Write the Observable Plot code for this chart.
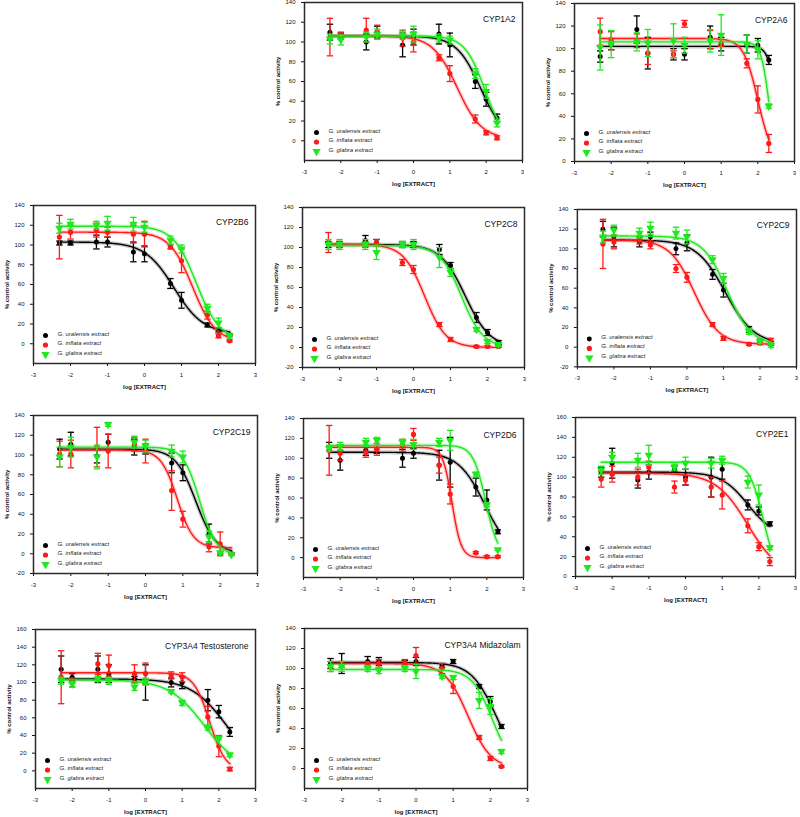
<!DOCTYPE html>
<html><head><meta charset="utf-8">
<script src="https://cdn.jsdelivr.net/npm/d3@7"></script>
<script src="https://cdn.jsdelivr.net/npm/@observablehq/plot@0.6"></script>
<style>
html,body{margin:0;padding:0;background:#fff;overflow:hidden;}
#page{position:relative;width:800px;height:817px;background:#fff;}
.panel{position:absolute;}
.panel svg{overflow:visible;}
.panel [aria-label="x-axis label"] text,.panel [aria-label="y-axis label"] text{font-weight:bold;}
</style></head><body><div id="page"></div>
<script>
// ---------- data ----------
const logConc = [-2.3, -2, -1.3, -1, -0.3, 0, 0.7, 1, 1.7, 2, 2.3];
const extracts = ["G. uralensis extract", "G. inflata extract", "G. glabra extract"];
const seriesColors = ["#000000", "#ff1a1a", "#1fe81f"];
const xTicks = [-3, -2, -1, 0, 1, 2, 3];
const yTicks0to140 = [0, 20, 40, 60, 80, 100, 120, 140];
const yTicksM20to140 = [-20, 0, 20, 40, 60, 80, 100, 120, 140];
const yTicks0to160 = [0, 20, 40, 60, 80, 100, 120, 140, 160];

// means [uralensis, inflata, glabra], SD, and fitted curve params [top, bottom, logIC50, hill]
const CYP1A2_mean = [[110,106,100,110,97,105,108,97,60,42,23],[105,107,112,110,104,100,84,68,22,8,3],[103,102,105,108,107,108,104,102,68,50,18]];
const CYP1A2_sd   = [[8,3,8,6,12,8,10,12,7,7,4],[19,3,12,7,8,10,3,8,4,2,2],[5,5,5,5,4,8,4,4,5,7,4]];
const CYP1A2_fit  = [[106,0,1.85,1.3],[106,2,1.2,1.3],[106,0,1.95,1.6]];

const CYP2A6_mean = [[93,104,117,96,95,95,110,104,104,103,90],[115,107,107,96,95,122,108,105,87,55,16],[101,104,106,105,107,103,107,112,104,99,49]];
const CYP2A6_sd   = [[5,5,12,14,5,5,10,6,8,6,4],[12,8,6,10,3,3,8,3,4,12,8],[20,12,8,12,15,7,10,18,8,8,2]];
const CYP2A6_fit  = [[102,0,2.5,4],[109,0,2.0,2.2],[106,0,2.3,4]];

const CYP2B6_mean = [[102,102,103,103,93,91,61,44,19,14,9],[108,113,115,113,111,111,98,84,29,8,3],[117,121,120,122,121,118,105,96,36,21,8]];
const CYP2B6_sd   = [[2,2,7,5,10,8,5,8,2,2,1],[22,7,7,5,9,13,2,12,4,2,1],[5,5,4,7,7,5,4,4,4,5,2]];
const CYP2B6_fit  = [[103,10,0.8,1.1],[113,2,1.3,1.4],[119,4,1.4,1.4]];

const CYP2C8_mean = [[103,103,107,105,103,103,98,82,30,15,5],[105,103,103,105,85,78,23,8,1,1,1],[103,103,103,95,103,103,90,75,18,6,3]];
const CYP2C8_sd   = [[3,3,5,3,3,3,5,3,5,3,2],[10,3,3,3,3,4,2,2,1,1,1],[5,5,5,7,3,5,10,4,2,2,2]];
const CYP2C8_fit  = [[103,0,1.4,1.3],[103,0,0.3,1.5],[102,0,1.3,1.5]];

const CYP2C9_mean = [[120,112,107,112,100,106,74,58,18,6,4],[105,107,109,104,80,71,23,9,3,4,6],[112,119,116,121,116,112,89,70,16,6,2]];
const CYP2C9_sd   = [[8,10,5,5,6,8,5,7,3,2,2],[25,7,4,4,4,5,2,2,1,1,3],[6,5,5,6,6,7,4,5,3,2,2]];
const CYP2C9_fit  = [[109,3,1.05,1.1],[109,3,0.2,1.3],[113,2,1.1,1.3]];

const CYP2C19_mean = [[106,111,99,113,108,106,92,82,20,1,0],[101,101,108,104,111,104,64,35,7,10,0],[98,108,98,131,113,109,104,98,17,1,-1]];
const CYP2C19_sd   = [[10,12,7,8,8,5,10,8,10,1,1],[13,14,20,17,7,12,20,8,5,12,1],[10,10,12,2,6,6,6,6,6,1,1]];
const CYP2C19_fit  = [[106,0,1.35,1.6],[105,6,0.85,2.0],[108,-1,1.45,2.0]];

const CYP2D6_mean = [[108,98,108,109,100,105,93,96,71,58,26],[108,105,106,109,113,124,93,64,5,1,1],[110,112,116,118,116,114,116,118,84,53,8]];
const CYP2D6_sd   = [[8,10,5,4,9,5,15,25,9,10,2],[25,7,5,6,6,6,8,10,1,1,1],[3,4,4,3,3,5,4,10,2,2,1]];
const CYP2D6_fit  = [[106,0,1.95,1.2],[111,0,1.05,3.5],[113,0,1.97,2.5]];

const CYP2E1_mean = [[105,114,97,105,108,100,100,108,72,66,53],[98,103,100,110,90,97,90,82,51,30,15],[107,120,117,122,110,114,114,117,95,82,29]];
const CYP2E1_sd   = [[5,15,8,7,3,8,20,10,5,4,2],[8,8,8,6,6,5,10,14,7,4,4],[4,5,7,10,3,6,5,4,6,10,2]];
const CYP2E1_fit  = [[105,40,1.7,1.2],[104,0,1.7,1.0],[115,0,2.12,2.3]];

const CYP3A4T_mean = [[115,106,115,110,104,100,100,100,80,67,44],[106,100,121,119,110,110,108,106,61,28,2],[102,98,104,102,95,101,90,77,49,37,18]];
const CYP3A4T_sd   = [[15,4,15,10,3,20,5,7,12,7,5],[30,5,12,12,10,12,4,5,12,12,2],[4,3,3,4,4,4,2,3,3,2,2]];
const CYP3A4T_fit  = [[104,0,2.2,0.9],[111,0,1.75,2.0],[103,0,1.6,0.9]];

const CYP3A4M_mean = [[105,105,107,107,105,107,103,107,82,67,42],[102,104,105,105,106,113,100,82,31,10,2],[102,102,100,98,100,97,92,91,68,62,17]];
const CYP3A4M_sd   = [[5,10,5,4,3,4,2,2,2,5,2],[5,3,2,4,3,8,5,7,2,2,1],[5,5,3,3,3,7,2,2,8,8,2]];
const CYP3A4M_fit  = [[106,0,2.15,1.3],[105,0,1.4,1.4],[99,0,2.05,1.6]];

// ---------- layout (frame boxes in page pixels) ----------
const panels = [
  {name:"CYP1A2", mean:CYP1A2_mean, sd:CYP1A2_sd, fit:CYP1A2_fit, box:[304,2,522,160], y:[-20,140], ticks:yTicks0to140},
  {name:"CYP2A6", mean:CYP2A6_mean, sd:CYP2A6_sd, fit:CYP2A6_fit, box:[574,3,794,161], y:[0,140], ticks:yTicks0to140},
  {name:"CYP2B6", mean:CYP2B6_mean, sd:CYP2B6_sd, fit:CYP2B6_fit, box:[33,205,255,363], y:[-20,140], ticks:yTicks0to140},
  {name:"CYP2C8", mean:CYP2C8_mean, sd:CYP2C8_sd, fit:CYP2C8_fit, box:[302,207,524,367], y:[-20,140], ticks:yTicksM20to140},
  {name:"CYP2C9", mean:CYP2C9_mean, sd:CYP2C9_sd, fit:CYP2C9_fit, box:[577,209,797,367], y:[-20,140], ticks:yTicksM20to140},
  {name:"CYP2C19", mean:CYP2C19_mean, sd:CYP2C19_sd, fit:CYP2C19_fit, box:[33,415,257,573], y:[-20,140], ticks:yTicksM20to140},
  {name:"CYP2D6", mean:CYP2D6_mean, sd:CYP2D6_sd, fit:CYP2D6_fit, box:[303,418,523,577], y:[-20,140], ticks:yTicks0to140},
  {name:"CYP2E1", mean:CYP2E1_mean, sd:CYP2E1_sd, fit:CYP2E1_fit, box:[575,417,795,576], y:[0,160], ticks:yTicks0to160},
  {name:"CYP3A4 Testosterone", mean:CYP3A4T_mean, sd:CYP3A4T_sd, fit:CYP3A4T_fit, box:[35,629,255,788], y:[-20,160], ticks:yTicks0to160},
  {name:"CYP3A4 Midazolam", mean:CYP3A4M_mean, sd:CYP3A4M_sd, fit:CYP3A4M_fit, box:[304,628,527,788], y:[-20,140], ticks:yTicks0to140}
];

const capSymbol = {draw(ctx, size){ const r = Math.sqrt(size/Math.PI); ctx.moveTo(-r,0); ctx.lineTo(r,0); }};
const symbols = [{symbol:"circle", rotate:0, r:2.5}, {symbol:"circle", rotate:0, r:2.6}, {symbol:"triangle", rotate:180, r:3.1}];

const page = document.getElementById("page");
const mL = 32, mR = 4, mT = 4, mB = 32;

for (const p of panels) {
  const [l, t, r, b] = p.box;
  const marks = [Plot.frame({stroke:"#2a2a2a", strokeWidth:1.5})];
  extracts.forEach((name, s) => {
    const col = seriesColors[s];
    const pts = logConc.map((x, i) => ({x, y: p.mean[s][i], e: p.sd[s][i]}));
    const [top, bottom, ic50, hill] = p.fit[s];
    const curve = d3.range(-2.3, 2.3001, 0.02).map(x => ({x, y: bottom + (top - bottom) / (1 + Math.pow(10, (x - ic50) * hill))}));
    marks.push(
      Plot.line(curve, {x:"x", y:"y", stroke: col, strokeWidth: 4, strokeOpacity: 0.22}),
      Plot.line(curve, {x:"x", y:"y", stroke: col, strokeWidth: 1.4}),
      Plot.ruleX(pts, {x:"x", y1: d => d.y - d.e, y2: d => d.y + d.e, stroke: col, strokeWidth: 1.3}),
      Plot.dot(pts, {x:"x", y: d => d.y + d.e, symbol: capSymbol, r: 3.2, fill:"none", stroke: col, strokeWidth: 1.3}),
      Plot.dot(pts, {x:"x", y: d => d.y - d.e, symbol: capSymbol, r: 3.2, fill:"none", stroke: col, strokeWidth: 1.3}),
      Plot.dot(pts, {x:"x", y:"y", symbol: symbols[s].symbol, rotate: symbols[s].rotate, r: symbols[s].r, fill: col, stroke: "none"})
    );
  });
  // panel title
  marks.push(Plot.text([p.name], {text: d => d, frameAnchor:"top-right", dx:-7, dy:13, fontSize: 8.5, fill:"#111", textAnchor:"end"}));
  // legend
  extracts.forEach((name, s) => {
    const dy = -28 + 9.5 * s;
    marks.push(
      Plot.dot([0], {frameAnchor:"bottom-left", dx:12, dy, symbol: symbols[s].symbol, rotate: symbols[s].rotate, r: symbols[s].r, fill: seriesColors[s]}),
      Plot.text([name], {text: d => d, frameAnchor:"bottom-left", dx:24, dy, textAnchor:"start", fontSize: 6, fontStyle:"italic", fill:"#222"})
    );
  });
  const chart = Plot.plot({
    width: r - l + mL + mR,
    height: b - t + mT + mB,
    marginLeft: mL, marginRight: mR, marginTop: mT, marginBottom: mB,
    style: {fontFamily: "'Liberation Sans', Arial, sans-serif", fontSize: "6px", color: "#111", background: "transparent", overflow: "visible"},
    x: {domain: [-3, 3], ticks: xTicks, tickSize: 3, label: "log [EXTRACT]", labelAnchor: "center", labelOffset: 25, labelArrow: "none", tickFormat: d => String(d)},
    y: {domain: p.y, ticks: p.ticks, tickSize: 3, label: "% control activity", labelAnchor: "center", labelOffset: 29, labelArrow: "none", tickFormat: d => String(d)},
    marks
  });
  const div = document.createElement("div");
  div.className = "panel";
  div.style.left = (l - mL) + "px";
  div.style.top = (t - mT) + "px";
  div.appendChild(chart);
  page.appendChild(div);
}
</script></body></html>
